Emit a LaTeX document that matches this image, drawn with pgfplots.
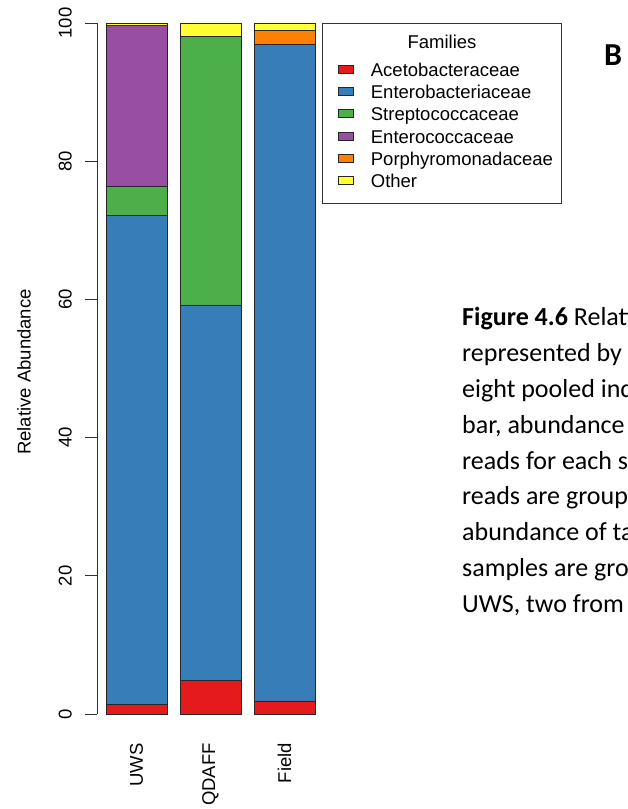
\documentclass[border=0pt]{standalone}
\usepackage{fontspec}
\setmainfont{Liberation Sans}
\newfontfamily\capfont{Carlito}
\usepackage{pgfplots}
\pgfplotsset{compat=1.18}
\definecolor{cAce}{HTML}{E41A1C}
\definecolor{cEnb}{HTML}{377EB8}
\definecolor{cStr}{HTML}{4DAF4A}
\definecolor{cEnc}{HTML}{984EA3}
\definecolor{cPor}{HTML}{FF7F00}
\definecolor{cOth}{HTML}{FFFF33}
\begin{document}
\fontsize{18.5}{22}\selectfont
\begin{tikzpicture}[x=1pt,y=1pt]
\useasboundingbox (0,0) rectangle (628,809);
\begin{scope}
\clip (0,0) rectangle (628,809);
\begin{scope}[every node/.style={anchor=base west, inner sep=0pt, font={\capfont\fontsize{26}{31}\selectfont}}]
\node at (462,{809-326}) {\textbf{Figure 4.6} Relative};
\node at (462,{809-362}) {represented by};
\node at (462,{809-398}) {eight pooled individuals};
\node at (462,{809-434}) {bar, abundance};
\node at (462,{809-470}) {reads for each sample};
\node at (462,{809-505}) {reads are grouped};
\node at (462,{809-541}) {abundance of taxa};
\node at (462,{809-577}) {samples are grouped};
\node at (462,{809-613}) {UWS, two from};
\node[font={\capfont\bfseries\fontsize{32}{38}\selectfont}] at (604,{809-66}) {B};
\end{scope}
\end{scope}
\node[rotate=90, inner sep=0pt] at (24,{809-372}) {Relative Abundance};
\draw[line width=0.8pt, black!80] (322,{809-23}) rectangle (561,{809-203});
\node[anchor=base, inner sep=0pt] at (442,{809-48.5}) {Families};
\begin{axis}[
  at={(97pt,95pt)}, anchor=south west,
  scale only axis, width=231.9pt, height=691pt,
  xmin=-0.534, xmax=2.6, ymin=0, ymax=100,
  ybar stacked, bar width=0.824,
  xtick={0,1,2}, xticklabels={UWS,QDAFF,Field},
  ytick={0,20,40,60,80,100},
  axis x line*=bottom, axis y line*=left,
  x axis line style={draw=none},
  y axis line style={-, line width=0.8pt, black!80},
  tick align=outside, major tick length=12pt,
  xtick style={draw=none},
  ytick style={line width=0.8pt, black!80},
  /pgf/number format/assume math mode=true,
  yticklabel style={rotate=90, anchor=south, inner sep=0pt},
  xticklabel style={rotate=90, anchor=east, inner sep=0pt},
  yticklabel shift=13pt,
  xticklabel shift=17pt,
  every axis plot/.append style={draw=black!85, line width=0.7pt},
  legend style={at={(1.0392,0.9428)}, anchor=north west, draw=none, fill=none,
    inner sep=0pt, row sep=4.8pt, column sep=0pt,
    nodes={inner sep=0pt, text height=13.5pt, text depth=4pt, anchor=base west}},
  legend cell align=left,
  legend image code/.code={\draw[#1, line width=0.7pt] (0pt,3pt) rectangle (15pt,11pt); \path (32pt,0pt);},
]
\addplot[fill=cAce] coordinates {(0,1.35) (1,4.9) (2,1.9)};
\addlegendentry{Acetobacteraceae}
\addplot[fill=cEnb] coordinates {(0,70.75) (1,54.3) (2,95.0)};
\addlegendentry{Enterobacteriaceae}
\addplot[fill=cStr] coordinates {(0,4.2) (1,38.8) (2,0)};
\addlegendentry{Streptococcaceae}
\addplot[fill=cEnc] coordinates {(0,23.4) (1,0) (2,0)};
\addlegendentry{Enterococcaceae}
\addplot[fill=cPor] coordinates {(0,0) (1,0) (2,2.1)};
\addlegendentry{Porphyromonadaceae}
\addplot[fill=cOth] coordinates {(0,0.3) (1,2.0) (2,1.0)};
\addlegendentry{Other}
\end{axis}
\end{tikzpicture}
\end{document}
